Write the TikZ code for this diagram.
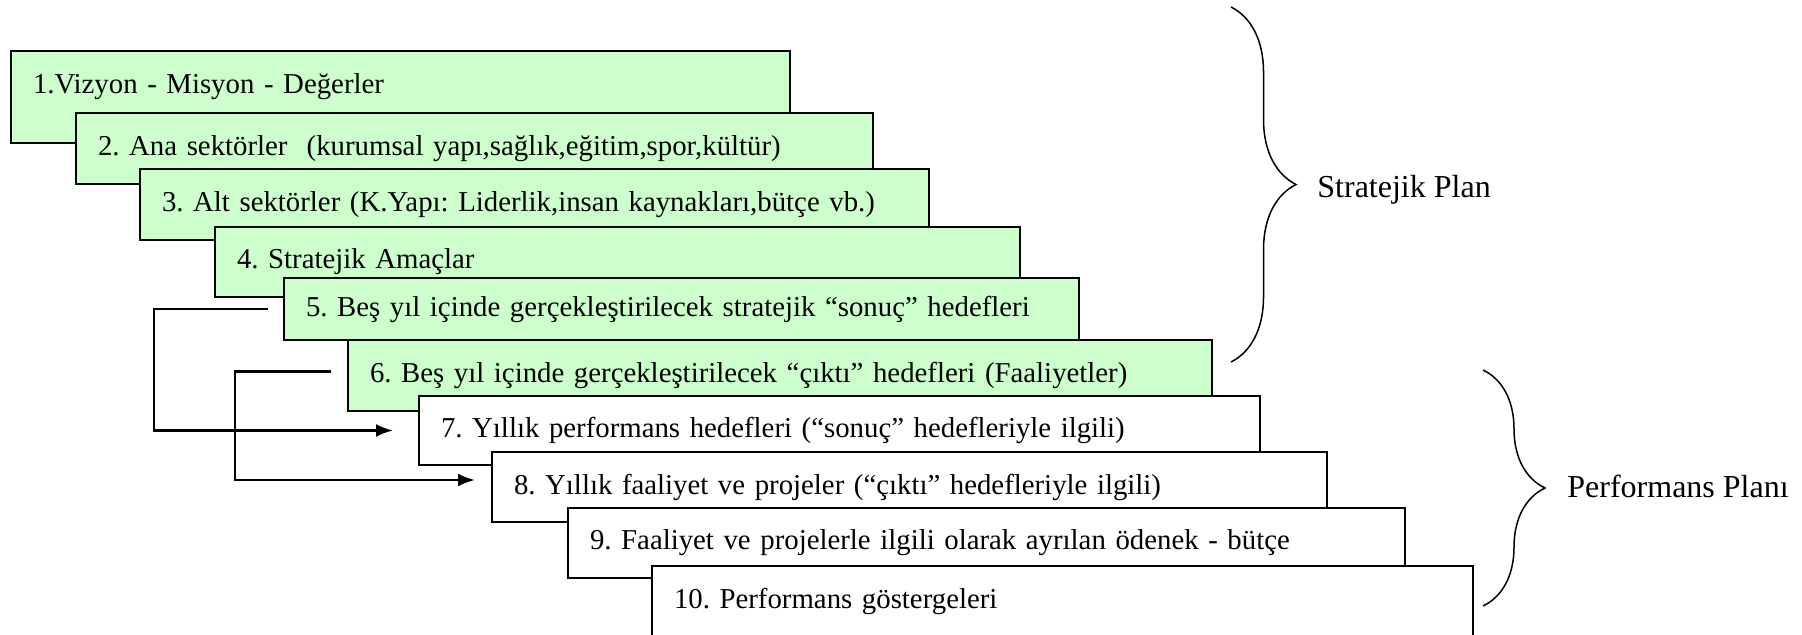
\documentclass[tikz,border=0pt]{standalone}
\usepackage{fontspec}
\setmainfont{Liberation Serif}
\usepackage{xcolor}
\usepackage{tikz}
\usetikzlibrary{arrows.meta}
\usetikzlibrary{decorations.pathreplacing}
\definecolor{boxgreen}{HTML}{CCFFCC}
\frenchspacing
\tikzset{
    box_node/.style = {draw=black, line width=1pt, anchor=north west, align=left, inner xsep=11pt, inner ysep=0pt, font=\fontsize{14.4}{17}\selectfont},
    green_box/.style = {box_node, fill=boxgreen},
    white_box/.style = {box_node, fill=white},
    plan_label/.style = {anchor=west, inner sep=0pt, font=\fontsize{16}{19}\selectfont},
    link/.style = {line width=1.2pt, -{Latex[length=8.5pt,width=6.5pt]}},
    plan_brace/.style = {decorate, decoration={brace, amplitude=#1}, line width=0.75pt}
}

\begin{document}
\begin{tikzpicture}[x=1pt, y=-1pt]
    \useasboundingbox (0,0) rectangle (901,317.5);
    \node [green_box, text width=367.5pt, minimum height=46pt, text depth=13pt] (b1) at (5,25) {1.Vizyon - Misyon - Değerler};
    \node [green_box, text width=376.5pt, minimum height=35.5pt] (b2) at (37.5,56) {2. Ana sektörler~ (kurumsal yapı,sağlık,eğitim,spor,kültür)};
    \node [green_box, text width=372.5pt, minimum height=35.5pt] (b3) at (69.5,84) {3. Alt sektörler (K.Yapı: Liderlik,insan kaynakları,bütçe vb.)};
    \node [green_box, text width=380.5pt, minimum height=35pt] (b4) at (107,113) {4. Stratejik Amaçlar};
    \node [green_box, text width=375.5pt, minimum height=31pt] (b5) at (141.5,138.5) {5. Beş yıl içinde gerçekleştirilecek stratejik “sonuç” hedefleri};
    \node [green_box, text width=410pt, minimum height=35.5pt] (b6) at (173.5,169.5) {6. Beş yıl içinde gerçekleştirilecek “çıktı” hedefleri (Faaliyetler)};
    \node [white_box, text width=398.5pt, minimum height=34.5pt] (b7) at (209,197.5) {7. Yıllık performans hedefleri (“sonuç” hedefleriyle ilgili)};
    \node [white_box, text width=395.5pt, minimum height=35pt] (b8) at (245.5,225.5) {8. Yıllık faaliyet ve projeler (“çıktı” hedefleriyle ilgili)};
    \node [white_box, text width=396.5pt, minimum height=35pt] (b9) at (283.5,253.5) {9. Faaliyet ve projelerle ilgili olarak ayrılan ödenek - bütçe};
    \node [white_box, text width=388.5pt, minimum height=35pt] (b10) at (325.5,282.5) {10. Performans göstergeleri};

    \draw [link] ([xshift=-7.5pt]b5.west) -- ++(-57pt,0) |- ([xshift=-12.5pt]b7.west);
    \draw [link] ([xshift=-8pt,yshift=2pt]b6.west) -- ++(-48pt,0) |- ([xshift=-8pt,yshift=3.5pt]b8.west);

    \draw [plan_brace=32.5pt] (615.5,3.5) -- (615.5,181);
    \node [plan_label] (sp) at (658.5,95) {Stratejik Plan};
    \draw [plan_brace=31pt] (741.5,185) -- (741.5,303);
    \node [plan_label] (pp) at (783.5,243) {Performans Planı};
\end{tikzpicture}
\end{document}
